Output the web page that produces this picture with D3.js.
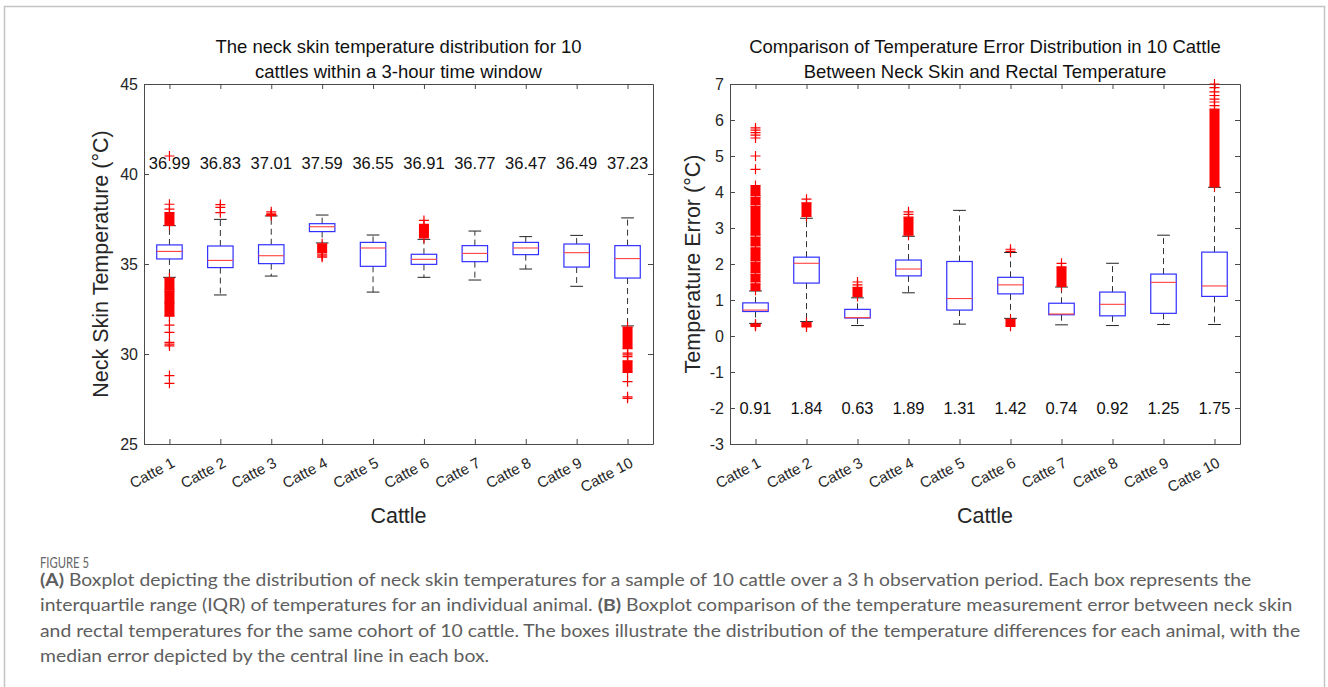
<!DOCTYPE html>
<html>
<head>
<meta charset="utf-8">
<script src="https://cdn.jsdelivr.net/npm/d3@7"></script>
<style>
  html, body { margin: 0; padding: 0; background: #fff; }
  svg { display: block; }
</style>
</head>
<body>
<svg id="fig" width="1328" height="687"></svg>
<script>
// ---------- data ----------
const cattle = ["Catte 1", "Catte 2", "Catte 3", "Catte 4", "Catte 5",
                "Catte 6", "Catte 7", "Catte 8", "Catte 9", "Catte 10"];

// Panel A: neck skin temperature (°C), box statistics per animal
const neckWhiskerLow  = [34.26, 33.28, 34.33, 36.17, 33.44, 34.26, 34.11, 34.72, 33.76, 31.56];
const neckQ1          = [35.28, 34.80, 35.02, 36.80, 34.87, 34.98, 35.13, 35.52, 34.83, 34.22];
const neckMedian      = [35.70, 35.20, 35.46, 37.07, 35.89, 35.26, 35.59, 35.89, 35.63, 35.30];
const neckQ3          = [36.06, 36.00, 36.07, 37.24, 36.20, 35.54, 36.02, 36.20, 36.11, 36.02];
const neckWhiskerHigh = [37.13, 37.48, 37.67, 37.72, 36.61, 36.37, 36.83, 36.52, 36.59, 37.56];
// isolated outliers
const neckOutliers = [
  [41.0, 38.32, 38.05, 31.6, 31.2, 30.65, 30.55, 30.45, 28.8, 28.37],
  [38.3, 38.15, 37.85],
  [37.9],
  [35.55, 35.45, 35.38],
  [],
  [37.42],
  [],
  [],
  [],
  [30.05, 29.95, 29.85, 28.46, 27.62, 27.54]
];
// ranges packed so densely with outliers that they read as solid
const neckOutlierBands = [
  [[37.15, 37.85], [33.55, 34.22], [32.85, 33.5], [32.1, 32.8]],
  [],
  [[37.69, 37.78]],
  [[35.65, 36.12]],
  [],
  [[36.45, 37.2]],
  [],
  [],
  [],
  [[30.3, 31.5], [28.98, 29.62]]
];
const rectalTemp = [36.99, 36.83, 37.01, 37.59, 36.55, 36.91, 36.77, 36.47, 36.49, 37.23];
const neckTicks = [25, 30, 35, 40, 45];

// Panel B: neck skin minus rectal temperature error (°C)
const errWhiskerLow  = [0.35, 0.40, 0.29, 1.20, 0.33, 0.49, 0.31, 0.29, 0.32, 0.32];
const errQ1          = [0.68, 1.47, 0.50, 1.67, 0.72, 1.17, 0.59, 0.56, 0.63, 1.10];
const errMedian      = [0.72, 2.02, 0.51, 1.86, 1.04, 1.42, 0.61, 0.88, 1.49, 1.39];
const errQ3          = [0.92, 2.19, 0.74, 2.11, 2.07, 1.63, 0.91, 1.22, 1.72, 2.33];
const errWhiskerHigh = [1.25, 3.27, 1.06, 2.77, 3.49, 2.32, 1.36, 2.02, 2.80, 4.13];
const errOutliers = [
  [4.63, 5.0, 5.5, 5.58, 5.65, 5.72, 5.78, 0.3],
  [3.8, 0.3],
  [1.42, 1.5],
  [3.38, 3.45],
  [],
  [2.35, 2.41],
  [2.02],
  [],
  [],
  [6.4, 6.5, 6.58, 6.68, 6.78, 6.9, 7.0]
];
const errOutlierBands = [
  [[1.27, 1.45], [1.5, 1.72], [1.77, 2.05], [2.1, 2.45], [2.5, 2.75], [2.8, 3.6], [3.65, 3.85], [3.9, 4.18], [0.27, 0.33]],
  [[3.32, 3.7], [0.25, 0.37]],
  [[1.1, 1.35]],
  [[2.8, 3.3]],
  [],
  [[0.27, 0.46]],
  [[1.38, 1.92]],
  [],
  [],
  [[4.15, 6.3]]
];
const meanError = [0.91, 1.84, 0.63, 1.89, 1.31, 1.42, 0.74, 0.92, 1.25, 1.75];
const errTicks = [-3, -2, -1, 0, 1, 2, 3, 4, 5, 6, 7];

// ---------- drawing ----------
const FONT = "'Liberation Sans', Arial, Helvetica, sans-serif";
const svg = d3.select("#fig");

// figure border
svg.append("rect")
  .attr("x", 4.5).attr("y", 6.5)
  .attr("width", 1320).attr("height", 720)
  .attr("fill", "none").attr("stroke", "#c4c4c4").attr("stroke-width", 1.5);

function drawPanel(o) {
  const g = svg.append("g");
  const n = o.cats.length;
  const x = d3.scaleLinear().domain([0.5, n + 0.5]).range([o.left, o.right]);
  const y = d3.scaleLinear().domain(o.yDomain).range([o.bottom, o.top]);
  const axisColor = "#4a4a4a";

  const styleAxis = sel => {
    sel.select(".domain").attr("stroke", axisColor);
    sel.selectAll(".tick line").attr("stroke", axisColor);
    sel.selectAll(".tick text").attr("fill", "#262626").style("font-family", FONT);
  };

  // left axis with labels (plain hyphen for negatives)
  g.append("g").attr("transform", `translate(${o.left},0)`)
    .call(d3.axisLeft(y).tickValues(o.yTicks).tickFormat(d => String(d))
      .tickSizeInner(-5).tickSizeOuter(0).tickPadding(6))
    .call(styleAxis)
    .call(s => s.selectAll(".tick text").style("font-size", "16px"));
  // right axis (ticks only)
  g.append("g").attr("transform", `translate(${o.right},0)`)
    .call(d3.axisRight(y).tickValues(o.yTicks).tickSizeInner(-5).tickSizeOuter(0).tickFormat(""))
    .call(styleAxis);
  // top axis (ticks only)
  g.append("g").attr("transform", `translate(0,${o.top})`)
    .call(d3.axisTop(x).tickValues(d3.range(1, n + 1)).tickSizeInner(-5).tickSizeOuter(0).tickFormat(""))
    .call(styleAxis);
  // bottom axis with rotated category labels
  g.append("g").attr("transform", `translate(0,${o.bottom})`)
    .call(d3.axisBottom(x).tickValues(d3.range(1, n + 1)).tickFormat(i => o.cats[i - 1])
      .tickSizeInner(-5).tickSizeOuter(0))
    .call(styleAxis)
    .call(s => s.selectAll(".tick text")
      .attr("x", 0).attr("y", 0).attr("dy", 0)
      .attr("text-anchor", "end")
      .attr("transform", "translate(6,22) rotate(-28)")
      .style("font-size", "15px"));

  const bw = x(1.25) - x(0.75);
  const cw = bw / 2;
  const ms = 5;

  const items = g.append("g").selectAll("g").data(o.cats).join("g");

  // whiskers (dashed)
  items.append("line")
    .attr("x1", (d, i) => x(i + 1)).attr("x2", (d, i) => x(i + 1))
    .attr("y1", (d, i) => y(o.q3[i])).attr("y2", (d, i) => y(o.hi[i]))
    .attr("stroke", "#333").attr("stroke-dasharray", "6,4");
  items.append("line")
    .attr("x1", (d, i) => x(i + 1)).attr("x2", (d, i) => x(i + 1))
    .attr("y1", (d, i) => y(o.q1[i])).attr("y2", (d, i) => y(o.lo[i]))
    .attr("stroke", "#333").attr("stroke-dasharray", "6,4");
  // caps
  items.append("line")
    .attr("x1", (d, i) => x(i + 1) - cw / 2).attr("x2", (d, i) => x(i + 1) + cw / 2)
    .attr("y1", (d, i) => y(o.hi[i])).attr("y2", (d, i) => y(o.hi[i]))
    .attr("stroke", "#222");
  items.append("line")
    .attr("x1", (d, i) => x(i + 1) - cw / 2).attr("x2", (d, i) => x(i + 1) + cw / 2)
    .attr("y1", (d, i) => y(o.lo[i])).attr("y2", (d, i) => y(o.lo[i]))
    .attr("stroke", "#222");
  // boxes
  items.append("rect")
    .attr("x", (d, i) => x(i + 1) - bw / 2).attr("width", bw)
    .attr("y", (d, i) => y(o.q3[i]))
    .attr("height", (d, i) => y(o.q1[i]) - y(o.q3[i]))
    .attr("fill", "none").attr("stroke", "#3030ff").attr("stroke-width", 1.2);
  // medians
  items.append("line")
    .attr("x1", (d, i) => x(i + 1) - bw / 2).attr("x2", (d, i) => x(i + 1) + bw / 2)
    .attr("y1", (d, i) => y(o.med[i])).attr("y2", (d, i) => y(o.med[i]))
    .attr("stroke", "#ff4040").attr("stroke-width", 1.1);

  // dense outlier ranges and single outliers as "+" markers
  const plus = (cx, cy) => `M${cx - ms},${cy}H${cx + ms}M${cx},${cy - ms}V${cy + ms}`;
  items.each(function (d, i) {
    const cx = x(i + 1);
    const sel = d3.select(this);
    o.bands[i].forEach(([lo, hi]) => {
      sel.append("rect")
        .attr("x", cx - ms).attr("width", 2 * ms)
        .attr("y", y(hi)).attr("height", y(lo) - y(hi))
        .attr("fill", "#ff0000");
      [lo, hi].forEach(v => sel.append("path")
        .attr("d", plus(cx, y(v)))
        .attr("stroke", "#ff0000").attr("stroke-width", 1.2).attr("fill", "none"));
    });
    o.outliers[i].forEach(v => sel.append("path")
      .attr("d", plus(cx, y(v)))
      .attr("stroke", "#ff0000").attr("stroke-width", 1.2).attr("fill", "none"));
  });

  // per-animal value labels
  g.append("g").selectAll("text").data(o.labels).join("text")
    .attr("x", (d, i) => x(i + 1)).attr("y", y(o.labelAt)).attr("dy", "0.36em")
    .attr("text-anchor", "middle")
    .style("font-family", FONT).style("font-size", "16.5px").attr("fill", "#111")
    .text(d => d.toFixed(2));

  // title
  const cx = (o.left + o.right) / 2;
  g.append("g").selectAll("text").data(o.title).join("text")
    .attr("x", cx).attr("y", (d, i) => 53 + i * 25)
    .attr("text-anchor", "middle")
    .style("font-family", FONT).style("font-size", "18.5px").attr("fill", "#111")
    .text(d => d);

  // axis labels
  g.append("text")
    .attr("transform", `translate(${o.yLabelX},${(o.top + o.bottom) / 2}) rotate(-90)`)
    .attr("text-anchor", "middle")
    .style("font-family", FONT).style("font-size", "21.5px").attr("fill", "#262626")
    .text(o.yLabel);
  g.append("text")
    .attr("x", cx).attr("y", 523)
    .attr("text-anchor", "middle")
    .style("font-family", FONT).style("font-size", "21.5px").attr("fill", "#262626")
    .text("Cattle");
}

drawPanel({
  cats: cattle, left: 144, right: 653, top: 84, bottom: 444,
  yDomain: [25, 45], yTicks: neckTicks,
  lo: neckWhiskerLow, q1: neckQ1, med: neckMedian, q3: neckQ3, hi: neckWhiskerHigh,
  outliers: neckOutliers, bands: neckOutlierBands,
  labels: rectalTemp, labelAt: 40.6,
  title: ["The neck skin temperature distribution for 10", "cattles within a 3-hour time window"],
  yLabel: "Neck Skin Temperature (°C)", yLabelX: 108
});

drawPanel({
  cats: cattle, left: 730, right: 1240, top: 84, bottom: 444,
  yDomain: [-3, 7], yTicks: errTicks,
  lo: errWhiskerLow, q1: errQ1, med: errMedian, q3: errQ3, hi: errWhiskerHigh,
  outliers: errOutliers, bands: errOutlierBands,
  labels: meanError, labelAt: -2,
  title: ["Comparison of Temperature Error Distribution in 10 Cattle", "Between Neck Skin and Rectal Temperature"],
  yLabel: "Temperature Error (°C)", yLabelX: 700
});

// ---------- caption ----------
const CAP_FONT = "Lato, 'Noto Sans', 'Open Sans', sans-serif";
svg.append("text")
  .attr("x", 40).attr("y", 568)
  .attr("textLength", 49).attr("lengthAdjust", "spacingAndGlyphs")
  .style("font-family", CAP_FONT).style("font-size", "15.5px").attr("fill", "#666")
  .text("FIGURE 5");

const captionLines = [
  { parts: [["(A)", true], [" Boxplot depicting the distribution of neck skin temperatures for a sample of 10 cattle over a 3 h observation period. Each box represents the", false]], width: 1212 },
  { parts: [["interquartile range (IQR) of temperatures for an individual animal. ", false], ["(B)", true], [" Boxplot comparison of the temperature measurement error between neck skin", false]], width: 1253 },
  { parts: [["and rectal temperatures for the same cohort of 10 cattle. The boxes illustrate the distribution of the temperature differences for each animal, with the", false]], width: 1261 },
  { parts: [["median error depicted by the central line in each box.", false]], width: null }
];
const scales = [];
const capNodes = captionLines.map((ln, k) => {
  const t = svg.append("text")
    .attr("x", 0).attr("y", 0)
    .attr("transform", `translate(40,${586 + k * 25.3})`)
    .style("font-family", CAP_FONT).style("font-size", "16.5px").attr("fill", "#5e5e5e");
  ln.parts.forEach(([s, b]) => t.append("tspan").attr("font-weight", b ? 700 : 400).text(s));
  const w = t.node().getComputedTextLength();
  if (ln.width) scales.push(ln.width / w);
  return t;
});
const meanScale = d3.mean(scales);
capNodes.forEach((t, k) => {
  const s = captionLines[k].width ? captionLines[k].width / t.node().getComputedTextLength() : meanScale;
  t.attr("transform", `translate(40,${586 + k * 25.3}) scale(${s},1)`);
});
</script>
</body>
</html>
